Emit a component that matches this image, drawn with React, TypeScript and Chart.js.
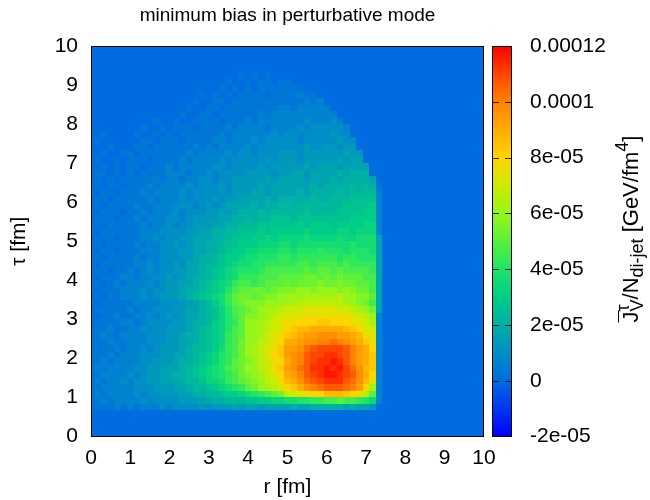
import React, { useEffect, useRef } from "react";
import { Chart, registerables } from "chart.js";

Chart.register(...registerables);

// ---------------- data ----------------
const TITLE = "minimum bias in perturbative mode";
const X_LABEL = "r [fm]";
const Y_LABEL = "τ [fm]";
const X_TICKS = [0, 1, 2, 3, 4, 5, 6, 7, 8, 9, 10];
const Y_TICKS = [0, 1, 2, 3, 4, 5, 6, 7, 8, 9, 10];
const CB_TICKS = [-2e-5, 0, 2e-5, 4e-5, 6e-5, 8e-5, 1e-4, 1.2e-4];
const CB_TICK_LABELS = ["-2e-05", "0", "2e-05", "4e-05", "6e-05", "8e-05", "0.0001", "0.00012"];
const CB_MIN = -2e-5;
const CB_MAX = 1.2e-4;

// grid: bins of 1/6 fm; columns centred on r = i*BIN, rows span [j*BIN,(j+1)*BIN]
const BIN = 1 / 6;
const TOP_ROW = 55; // tau-bin index of the first string below
// each character is a level; value = index * LEVEL_STEP (background = 0)
const LEVEL_CHARS = "0123456789abcdefghijklmnopqrstuvwxyz";
const LEVEL_STEP = 1e-5 / 3;
const HEAT_ROWS = [
  "000000 000000 000000 000001 0101",
  "000000 000000 000000 000100 101101 1",
  "000000 000000 000000 001010 101111 111",
  "000000 000000 000001 010101 111011 11211",
  "000000 000000 000010 011011 111111 111212",
  "000000 000000 000100 110111 111112 212222 2",
  "000000 000000 001001 101111 112122 222222 22",
  "000000 000010 010011 110111 212222 222322 232",
  "000000 001001 011101 111212 222122 223233 3332",
  "001000 010010 101111 112122 222232 332333 3433",
  "010000 001101 110111 122122 232333 332333 33433",
  "000100 011011 111121 212222 323333 333433 44344",
  "001001 101111 111212 222323 323334 443444 444544",
  "010010 111011 112122 223233 333434 443444 445455",
  "001010 110111 212222 233233 334344 444545 554555 5",
  "011010 101111 222122 323333 444434 455455 556566 6",
  "010101 111121 221223 323344 444545 555455 565666 650",
  "110110 111212 222323 334344 445455 555565 666676 761",
  "101101 112122 223233 334344 455455 556566 667677 772",
  "011011 111212 223233 343445 555656 666676 677788 882",
  "110111 121122 233323 434555 565667 767777 777888 892",
  "101110 112122 232333 445456 667677 777877 778888 992",
  "011101 121222 332344 445566 767788 878888 888899 992",
  "110111 112122 323344 455667 778888 889899 989999 aa2",
  "101111 112223 333445 566778 889899 999a99 99aa9a aa2",
  "011101 112232 334455 566788 899a9a aaabaa aabaab bb5",
  "110111 121223 343455 667889 99aaab babbbb bbbbcb bb5",
  "101101 112223 334455 667899 aabbbc cbcccd cccbcc cb5",
  "110111 121223 334456 67899a bbcccd dcdddd ddcddc cc5",
  "101111 122323 343556 7789ab bccddd ddeede eededd dd5",
  "111011 212323 344556 789abc ccdeee eeefef fefeee ed5",
  "101112 212233 434566 789abd ddeeef fffggf gfgfff ee5",
  "110121 222323 445567 89abde edefff gfgggh gghggf fe5",
  "101112 223233 445667 89acef fggfgh hhiihi iihihg ge5",
  "010112 223234 445678 9abdfg gfghhi ijijjj jjkiih hf5",
  "101111 122223 334456 79bdfg hhhiii jjkkkk kkkjih ge5",
  "011111 212233 344556 78acef ghijjk lllmmm mmllkj ig5",
  "101121 122323 434556 78acef hhijkl mmmnnn nnnnml ki2",
  "011112 212333 344566 79acdf iijklm nnooop pooonm lj2",
  "111211 223233 444567 89acef iijklm opqqrr rrrqpo ll2",
  "112112 222333 445667 89adef iijlmn pqrsst ttssrq nm2",
  "111211 222333 445567 89adeg iiklmo rrsttu uvutsr pn2",
  "111121 223234 445677 89bdeg ijkmnp sstvwx xxxwus ro2",
  "111212 223334 455678 9acdeg ijkmop stuwxx yyxwus rp2",
  "112122 223344 456678 9acdfg hiklno rtuwxy yzywus rp2",
  "121222 233445 556789 abcefg iiklnp stvwyy zyzxvt qp2",
  "112222 323445 566789 abcdeg hijlmo rsuwxy zzyxwt ro2",
  "121223 233445 556778 aabdef ghikln qrtvwx yyywvt qm2",
  "112222 233344 455677 89abcd fgijkm oprtuv wwwvus oj2",
  "121222 232334 445566 77899a bcdefg klmnoo qqqpon kf2",
  "112122 223233 334445 566777 8899aa bbccdd eefeed ca2",
  "111121 212223 233334 344454 554555 565566 666565 540",
];

// palette (value -> colour)
const PALETTE_VALUES = [-2e-5, -1e-5, 0, 1e-5, 2e-5, 3e-5, 4e-5, 5e-5, 6e-5, 7e-5, 8e-5, 9e-5, 1e-4, 1.1e-4, 1.2e-4];
const PALETTE_COLORS = [
  [0, 0, 255],
  [0, 55, 240],
  [0, 108, 224],
  [0, 142, 198],
  [0, 175, 165],
  [0, 205, 135],
  [30, 228, 105],
  [90, 240, 60],
  [150, 245, 25],
  [205, 235, 0],
  [255, 212, 0],
  [255, 172, 0],
  [255, 130, 0],
  [255, 70, 0],
  [255, 0, 0],
];

const FONT_FAMILY = '"Liberation Sans", Arial, Helvetica, sans-serif';

function colorFor(v: number): string {
  const vs = PALETTE_VALUES;
  if (v <= vs[0]) return `rgb(${PALETTE_COLORS[0].join(",")})`;
  if (v >= vs[vs.length - 1]) return `rgb(${PALETTE_COLORS[vs.length - 1].join(",")})`;
  let k = 0;
  while (k < vs.length - 2 && v > vs[k + 1]) k++;
  const t = (v - vs[k]) / (vs[k + 1] - vs[k]);
  const a = PALETTE_COLORS[k];
  const b = PALETTE_COLORS[k + 1];
  const c = a.map((ca, n) => Math.round(ca + (b[n] - ca) * t));
  return `rgb(${c[0]},${c[1]},${c[2]})`;
}

const heatmapPlugin = {
  id: "heatmap",
  beforeDatasetsDraw(chart: any) {
    const { ctx, chartArea: a } = chart;
    const xs = chart.scales.x;
    const ys = chart.scales.y;
    ctx.save();
    ctx.beginPath();
    ctx.rect(a.left, a.top, a.right - a.left, a.bottom - a.top);
    ctx.clip();
    ctx.fillStyle = colorFor(0);
    ctx.fillRect(a.left, a.top, a.right - a.left, a.bottom - a.top);
    HEAT_ROWS.forEach((raw, k) => {
      const j = TOP_ROW - k;
      const row = raw.replace(/ /g, "");
      const yTop = Math.round(ys.getPixelForValue((j + 1) * BIN));
      const yBot = Math.round(ys.getPixelForValue(j * BIN));
      for (let i = 0; i < row.length; i++) {
        const v = LEVEL_CHARS.indexOf(row[i]) * LEVEL_STEP;
        const x0 = Math.round(xs.getPixelForValue((i - 0.5) * BIN));
        const x1 = Math.round(xs.getPixelForValue((i + 0.5) * BIN));
        ctx.fillStyle = colorFor(v);
        ctx.fillRect(x0, yTop, x1 - x0, yBot - yTop);
      }
    });
    ctx.restore();
  },
  afterDraw(chart: any) {
    const { ctx, chartArea: a } = chart;
    ctx.save();
    // title
    ctx.fillStyle = "#000";
    ctx.font = `19px ${FONT_FAMILY}`;
    ctx.textAlign = "center";
    ctx.textBaseline = "middle";
    ctx.fillText(TITLE, (a.left + a.right) / 2, 16);
    // frame
    const L = Math.round(a.left), R = Math.round(a.right), T = Math.round(a.top), B = Math.round(a.bottom);
    ctx.strokeStyle = "#000";
    ctx.lineWidth = 1;
    ctx.strokeRect(L + 0.5, T + 0.5, R - L - 1, B - T - 1);
    // colour bar
    const cb = chart.scales.cb;
    const bx0 = R + 8;
    const bx1 = R + 28;
    const top = Math.round(cb.top);
    const bot = Math.round(cb.bottom);
    for (let py = top; py < bot; py++) {
      const v = cb.getValueForPixel(py + 0.5);
      ctx.fillStyle = colorFor(v);
      ctx.fillRect(bx0, py, bx1 - bx0, 1);
    }
    ctx.strokeStyle = "#000";
    ctx.strokeRect(bx0 + 0.5, top + 0.5, bx1 - bx0 - 1, bot - top - 1);
    ctx.strokeStyle = "rgba(0,0,0,0.8)";
    cb.ticks.forEach((t: any) => {
      const py = Math.round(cb.getPixelForValue(t.value)) + 0.5;
      if (py <= top + 1 || py >= bot - 1) return;
      ctx.beginPath();
      ctx.moveTo(bx0, py);
      ctx.lineTo(bx0 + 7, py);
      ctx.moveTo(bx1 - 7, py);
      ctx.lineTo(bx1, py);
      ctx.stroke();
    });
    // colour-bar title (rotated, with over-line, sub- and superscripts)
    const big = `22px ${FONT_FAMILY}`;
    const small = `18px ${FONT_FAMILY}`;
    const segs: { t: string; f: string; dy: number; stack?: { t: string; dy: number } }[] = [
      { t: "J", f: big, dy: 0 },
      { t: "τ", f: small, dy: -9, stack: { t: "V", dy: 5 } },
      { t: "/N", f: big, dy: 0 },
      { t: "di-jet", f: small, dy: 5 },
      { t: " [GeV/fm", f: big, dy: 0 },
      { t: "4", f: small, dy: -10 },
      { t: "]", f: big, dy: 0 },
    ];
    const widths = segs.map((s) => {
      ctx.font = s.f;
      let w = ctx.measureText(s.t).width;
      if (s.stack) w = Math.max(w, ctx.measureText(s.stack.t).width);
      return w;
    });
    const total = widths.reduce((p, c) => p + c, 0);
    ctx.translate(638, 229);
    ctx.rotate(-Math.PI / 2);
    ctx.fillStyle = "#000";
    ctx.textAlign = "left";
    ctx.textBaseline = "alphabetic";
    let x = -total / 2;
    segs.forEach((s, n) => {
      ctx.font = s.f;
      ctx.fillText(s.t, x, s.dy);
      if (s.stack) ctx.fillText(s.stack.t, x, s.stack.dy);
      if (n === 0) {
        ctx.strokeStyle = "#000";
        ctx.lineWidth = 1;
        ctx.beginPath();
        ctx.moveTo(x, -19.5);
        ctx.lineTo(x + widths[0] + 1, -19.5);
        ctx.stroke();
      }
      x += widths[n];
    });
    ctx.restore();
  },
};

export default function App() {
  const ref = useRef<HTMLCanvasElement | null>(null);
  useEffect(() => {
    document.body.style.margin = "0";
    const canvas = ref.current;
    if (!canvas) return;
    const tickFont = { family: FONT_FAMILY, size: 21 };
    const chart = new Chart(canvas, {
      type: "scatter",
      data: { datasets: [{ data: [], pointRadius: 0 }] },
      options: {
        responsive: false,
        maintainAspectRatio: false,
        animation: false,
        devicePixelRatio: 1,
        layout: { padding: { top: 46, left: 0, right: 0, bottom: 0 } },
        plugins: {
          legend: { display: false },
          tooltip: { enabled: false },
          title: { display: false },
        },
        scales: {
          x: {
            type: "linear",
            position: "bottom",
            min: 0,
            max: 10,
            afterBuildTicks: (s: any) => {
              s.ticks = X_TICKS.map((v) => ({ value: v }));
            },
            ticks: {
              color: "#000",
              font: tickFont,
              padding: 9,
              maxRotation: 0,
              autoSkip: false,
              callback: (_v: any, i: number) => String(X_TICKS[i]),
            },
            grid: { display: false, drawTicks: false },
            border: { display: false },
            title: { display: true, text: X_LABEL, color: "#000", font: tickFont, padding: { top: 0, bottom: 0 } },
            afterFit: (s: any) => {
              s.height = 63.5;
              s.paddingLeft = 0;
              s.paddingRight = 0;
            },
          },
          y: {
            type: "linear",
            position: "left",
            min: 0,
            max: 10,
            afterBuildTicks: (s: any) => {
              s.ticks = Y_TICKS.map((v) => ({ value: v }));
            },
            ticks: {
              color: "#000",
              font: tickFont,
              padding: 13,
              autoSkip: false,
              callback: (_v: any, i: number) => String(Y_TICKS[i]),
            },
            grid: { display: false, drawTicks: false },
            border: { display: false },
            title: { display: true, text: Y_LABEL, color: "#000", font: tickFont, padding: { top: 7, bottom: 0 } },
            afterFit: (s: any) => {
              s.width = 91;
              s.paddingTop = 0;
              s.paddingBottom = 0;
            },
          },
          cb: {
            type: "linear",
            position: "right",
            min: CB_MIN,
            max: CB_MAX,
            afterBuildTicks: (s: any) => {
              s.ticks = CB_TICKS.map((v) => ({ value: v }));
            },
            ticks: {
              color: "#000",
              font: tickFont,
              padding: 46,
              autoSkip: false,
              callback: (_v: any, i: number) => CB_TICK_LABELS[i],
            },
            grid: { display: false, drawTicks: false },
            border: { display: false },
            afterFit: (s: any) => {
              s.width = 166;
              s.paddingTop = 0;
              s.paddingBottom = 0;
            },
          },
        },
      } as any,
      plugins: [heatmapPlugin],
    });
    return () => chart.destroy();
  }, []);
  return (
    <div style={{ width: 650, height: 500 }}>
      <canvas ref={ref} width={650} height={500} />
    </div>
  );
}
